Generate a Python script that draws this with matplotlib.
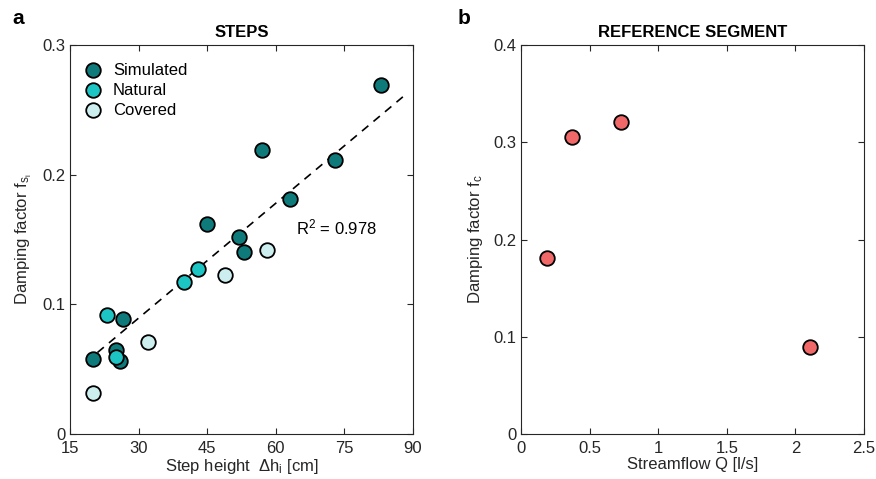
import matplotlib
matplotlib.use("Agg")
import matplotlib.pyplot as plt

plt.rcParams["font.family"] = ["Liberation Sans", "DejaVu Sans"]
plt.rcParams["mathtext.fontset"] = "custom"
plt.rcParams["mathtext.rm"] = "Liberation Sans"
plt.rcParams["mathtext.it"] = "Liberation Sans"

# panel a: steps
sim_h = [20, 26.5, 25, 26, 45, 52, 53, 57, 63, 73, 83]
sim_f = [0.058, 0.089, 0.065, 0.056, 0.162, 0.152, 0.140, 0.219, 0.181, 0.211, 0.269]
nat_h = [23, 25, 40, 43]
nat_f = [0.092, 0.059, 0.117, 0.127]
cov_h = [20, 32, 49, 58]
cov_f = [0.032, 0.071, 0.123, 0.142]

fit_slope = 0.002953
fit_intercept = 0.0008
fit_range = [21, 88]
r2 = 0.978

# panel b: reference segment
flow_q = [0.19, 0.37, 0.73, 2.11]
flow_f = [0.181, 0.305, 0.321, 0.089]

c_sim = "#0e7a7a"
c_nat = "#1cc4c4"
c_cov = "#cdeeee"
c_ref = "#f06868"
grey = "#262626"


def style_axes(ax):
    ax.tick_params(direction="in", top=True, right=True, length=4,
                   labelsize=12, colors=grey, labelcolor=grey)
    ax.tick_params(axis="x", pad=5)
    for sp in ax.spines.values():
        sp.set_color(grey)
        sp.set_linewidth(0.8)


fig = plt.figure(figsize=(8.76, 4.79), dpi=100)
ax1 = fig.add_axes([70 / 876, 45 / 479, 343 / 876, 389 / 479])
ax2 = fig.add_axes([521 / 876, 45 / 479, 343 / 876, 389 / 479])

mk = dict(s=110, edgecolors="black", linewidths=1.3, zorder=3)

fx = fit_range
fy = [fit_slope * x + fit_intercept for x in fx]
ax1.plot(fx, fy, ls=(0, (5, 4)), color="black", lw=1.2, zorder=2)
ax1.scatter(sim_h, sim_f, color=c_sim, label="Simulated", **mk)
ax1.scatter(nat_h, nat_f, color=c_nat, label="Natural", **mk)
ax1.scatter(cov_h, cov_f, color=c_cov, label="Covered", **mk)
ax1.text(64.4, 0.159, f"R$^2$ = {r2:.3f}", fontsize=12, va="center")

ax1.set_xlim(15, 90)
ax1.set_ylim(0, 0.3)
ax1.set_xticks([15, 30, 45, 60, 75, 90])
ax1.set_yticks([0, 0.1, 0.2, 0.3])
ax1.set_yticklabels(["0", "0.1", "0.2", "0.3"])
ax1.set_xlabel(r"Step height  $\Delta$h$_\mathregular{i}$ [cm]", fontsize=12, color=grey, labelpad=1)
ax1.set_ylabel(r"Damping factor f$_{\mathregular{s_i}}$", fontsize=12, color=grey, labelpad=6)
ax1.set_title("STEPS", fontsize=12, fontweight="bold", pad=6)
ax1.legend(loc="upper left", frameon=False, fontsize=12, handlelength=1.0,
           handletextpad=0.7, labelspacing=0.3, borderpad=0.4, borderaxespad=0,
           bbox_to_anchor=(0.023, 0.972))
style_axes(ax1)

ax2.scatter(flow_q, flow_f, color=c_ref, **mk)
ax2.set_xlim(0, 2.5)
ax2.set_ylim(0, 0.4)
ax2.set_xticks([0, 0.5, 1, 1.5, 2, 2.5])
ax2.set_xticklabels(["0", "0.5", "1", "1.5", "2", "2.5"])
ax2.set_yticks([0, 0.1, 0.2, 0.3, 0.4])
ax2.set_yticklabels(["0", "0.1", "0.2", "0.3", "0.4"])
ax2.set_xlabel("Streamflow Q [l/s]", fontsize=12, color=grey, labelpad=1)
ax2.set_ylabel(r"Damping factor f$_\mathregular{c}$", fontsize=12, color=grey, labelpad=6)
ax2.set_title("REFERENCE SEGMENT", fontsize=12, fontweight="bold", pad=6)
style_axes(ax2)

fig.text(12 / 876, 1 - 18 / 479, "a", fontsize=15, fontweight="bold", va="center")
fig.text(458 / 876, 1 - 18 / 479, "b", fontsize=15, fontweight="bold", va="center")

fig.savefig("out.png", dpi=100)
